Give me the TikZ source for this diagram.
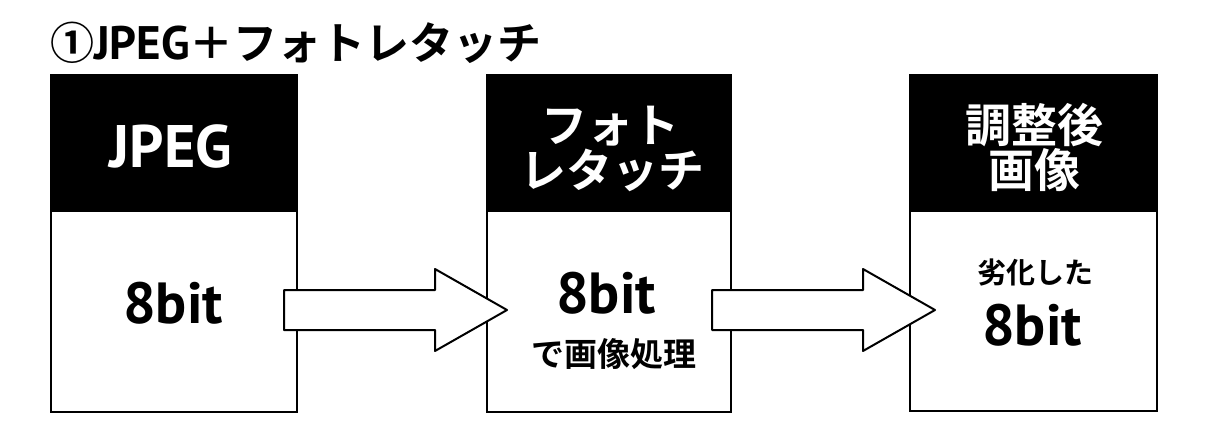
\documentclass[tikz,border=0pt]{standalone}
\usepackage{fontspec}
\setmainfont{Noto Sans CJK JP}[BoldFont={Noto Sans CJK JP Bold}]
\newfontfamily\lat{PT Sans}
\begin{document}
\begin{tikzpicture}[x=1pt,y=-1pt,
  boxframe/.style={draw=black,line width=2pt,fill=white},
  header/.style={fill=black},
  hdtext/.style={text=white,font=\bfseries\fontsize{46}{46}\selectfont,anchor=base,inner sep=0pt,align=center},
  bigtext/.style={text=black,font=\lat\bfseries\fontsize{58}{58}\selectfont,anchor=base,inner sep=0pt},
  smalltext/.style={text=black,font=\bfseries\fontsize{31}{31}\selectfont,anchor=base,inner sep=0pt},
  blockarr/.style={draw=black,line width=2pt,fill=white,line join=round}]
\useasboundingbox[fill=white] (0,0) rectangle (1210,434);
% title
\node[anchor=base west,inner sep=0pt,font=\bfseries\fontsize{44}{44}\selectfont] (title) at (50,59) {①{\lat\bfseries\fontsize{47}{47}\selectfont JPEG}＋フォトレタッチ};
% boxes
\draw[boxframe] (51,75) rectangle (297,412);
\fill[header] (51,75) rectangle (297,212);
\draw[line width=2pt] (51,75) rectangle (297,412);
\draw[boxframe] (487,75) rectangle (731,412);
\fill[header] (487,75) rectangle (731,212);
\draw[line width=2pt] (487,75) rectangle (731,412);
\draw[boxframe] (910,75) rectangle (1157,411);
\fill[header] (910,75) rectangle (1157,212);
\draw[line width=2pt] (910,75) rectangle (1157,411);
% arrows
\coordinate (a1) at (284,310);
\coordinate (a2) at (712,310);
\draw[blockarr] (a1) ++(0,-20) -- ++(151,0) -- ++(0,-21) -- ++(72,41) -- ++(-72,41) -- ++(0,-21) -- ++(-151,0) -- cycle;
\draw[blockarr] (a2) ++(0,-20) -- ++(151,0) -- ++(0,-21) -- ++(72,41) -- ++(-72,41) -- ++(0,-21) -- ++(-151,0) -- cycle;
% texts box 1
\node[hdtext,font=\lat\bfseries\fontsize{60}{60}\selectfont] (h1) at (171,167) {JPEG};
\node[bigtext] (b1) at (173,323) {8bit};
% box 2
\node[hdtext] (h2a) at (610,142) {フォト};
\node[hdtext] (h2b) at (612,187) {レタッチ};
\node[bigtext] (b2) at (606,313) {8bit};
\node[smalltext,font=\bfseries\fontsize{33}{33}\selectfont] (s2) at (614,366) {で画像処理};
% box 3
\node[hdtext] (h3a) at (1034,142) {調整後};
\node[hdtext] (h3b) at (1034,187) {画像};
\node[smalltext,font=\bfseries\fontsize{29}{29}\selectfont] (s3) at (1035,283) {劣化した};
\node[bigtext] (b3) at (1032,345) {8bit};
\end{tikzpicture}
\end{document}
